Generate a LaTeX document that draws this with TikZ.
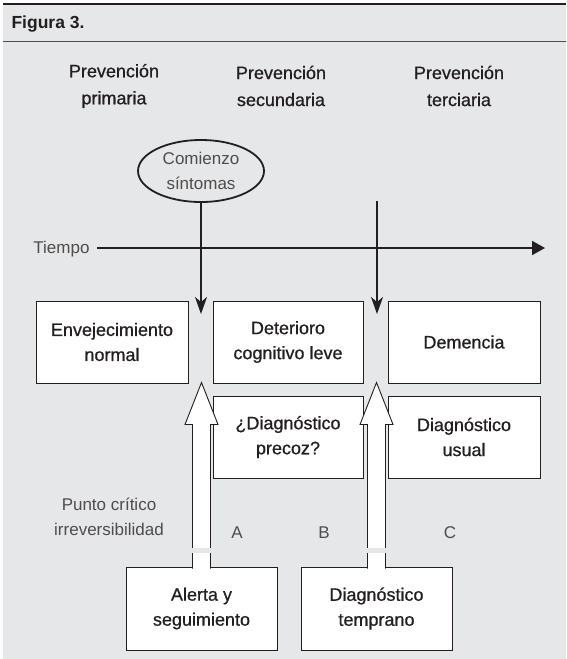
\documentclass[tikz,border=0pt]{standalone}
\usepackage{fontspec}
\setmainfont{Liberation Sans}
\newfontfamily\medio[FakeBold=0.7]{Liberation Sans}
\usetikzlibrary{arrows.meta,shapes.geometric,calc}
\definecolor{fondo}{HTML}{E6E7E8}
\definecolor{tinta}{HTML}{231F20}

\begin{document}
\begin{tikzpicture}[x=1pt,y=-1pt,
	caja/.style={draw=tinta,line width=1pt,fill=white,minimum width=152pt,minimum height=82pt,
		align=center,text=tinta,font=\medio\fontsize{18}{25}\selectfont},
	titulo/.style={align=center,text=tinta,font=\medio\fontsize{18}{27}\selectfont},
	fino/.style={align=center,text=tinta!80,font=\fontsize{17}{25}\selectfont},
	flecha/.style={draw=tinta,line width=1.8pt,-{Stealth[length=17pt,width=12pt,inset=5pt]}},
	hueca/.style={draw=tinta,line width=0.9pt,fill=white}]
	% fondo y cabecera
	\useasboundingbox (0,0) rectangle (566,659);
	\fill[fondo] (3,4) rectangle (566,659);
	\draw[tinta,line width=2pt] (3,4) -- (566,4);
	\draw[tinta!80,line width=0.8pt] (3,41) -- (566,41);
	\node[anchor=west,text=tinta,font=\bfseries\fontsize{17.5}{17.5}\selectfont] (fig) at (8,24) {Figura 3.};
	% niveles de prevencion
	\node[titulo] (prim) at (114,86) {Prevención\\primaria};
	\node[titulo] (sec) at (281,86) {Prevención\\secundaria};
	\node[titulo] (ter) at (459,86) {Prevención\\terciaria};
	% eje del tiempo
	\node[fino,ellipse,draw=tinta,line width=1.8pt,minimum width=126pt,minimum height=62pt,inner sep=0pt,
		text=tinta!80] (inicio) at (201,171) {Comienzo\\síntomas};
	\node[fino,anchor=east] (tiempo) at (93,249) {Tiempo};
	\coordinate (fin) at (545,248);
	\draw[tinta,line width=1.8pt,shorten <=4pt,-{Triangle[length=13pt,width=14pt]}] (tiempo.east |- fin) -- (fin);
	% estadios
	\node[caja] (env) at (112,342) {Envejecimiento\\normal};
	\node[caja,minimum width=150pt] (dcl) at (288,342) {Deterioro\\cognitivo leve};
	\node[caja] (dem) at (464,342) {Demencia};
	\node[caja,minimum width=150pt] (precoz) at (288,437) {¿Diagnóstico\\precoz?};
	\node[caja] (usual) at (464,437) {Diagnóstico\\usual};
	\node[caja,minimum width=151pt,minimum height=83pt] (alerta) at (201.5,608.5) {Alerta y\\seguimiento};
	\node[caja,minimum width=151pt,minimum height=83pt] (temprano) at (376.5,608.5) {Diagnóstico\\temprano};
	% flechas verticales
	\coordinate (c0) at (377,201);
	\coordinate (c1) at (201,314);
	\coordinate (c2) at (377,314);
	\draw[flecha] (inicio.south) -- (c1);
	\draw[flecha] (c0) -- (c2);
	% flechas huecas
	\foreach \n in {alerta,temprano}{
		\draw[hueca] ($(\n.north)+(-9,2)$) -- ++(0,-144) -- ++(-7.5,0) -- ++(16.5,-42)
			-- ++(16.5,42) -- ++(-7.5,0) -- ++(0,144);
		\fill[fondo] ($(\n.north)+(-11,-14)$) rectangle ($(\n.north)+(11,-19)$);
	}
	% etiquetas
	\node[fino] (punto) at (109,517) {Punto crítico\\irreversibilidad};
	\foreach \l/\x in {A/237,B/324,C/450}
		\node[fino] (\l) at (\x,533) {\l};
\end{tikzpicture}
\end{document}
